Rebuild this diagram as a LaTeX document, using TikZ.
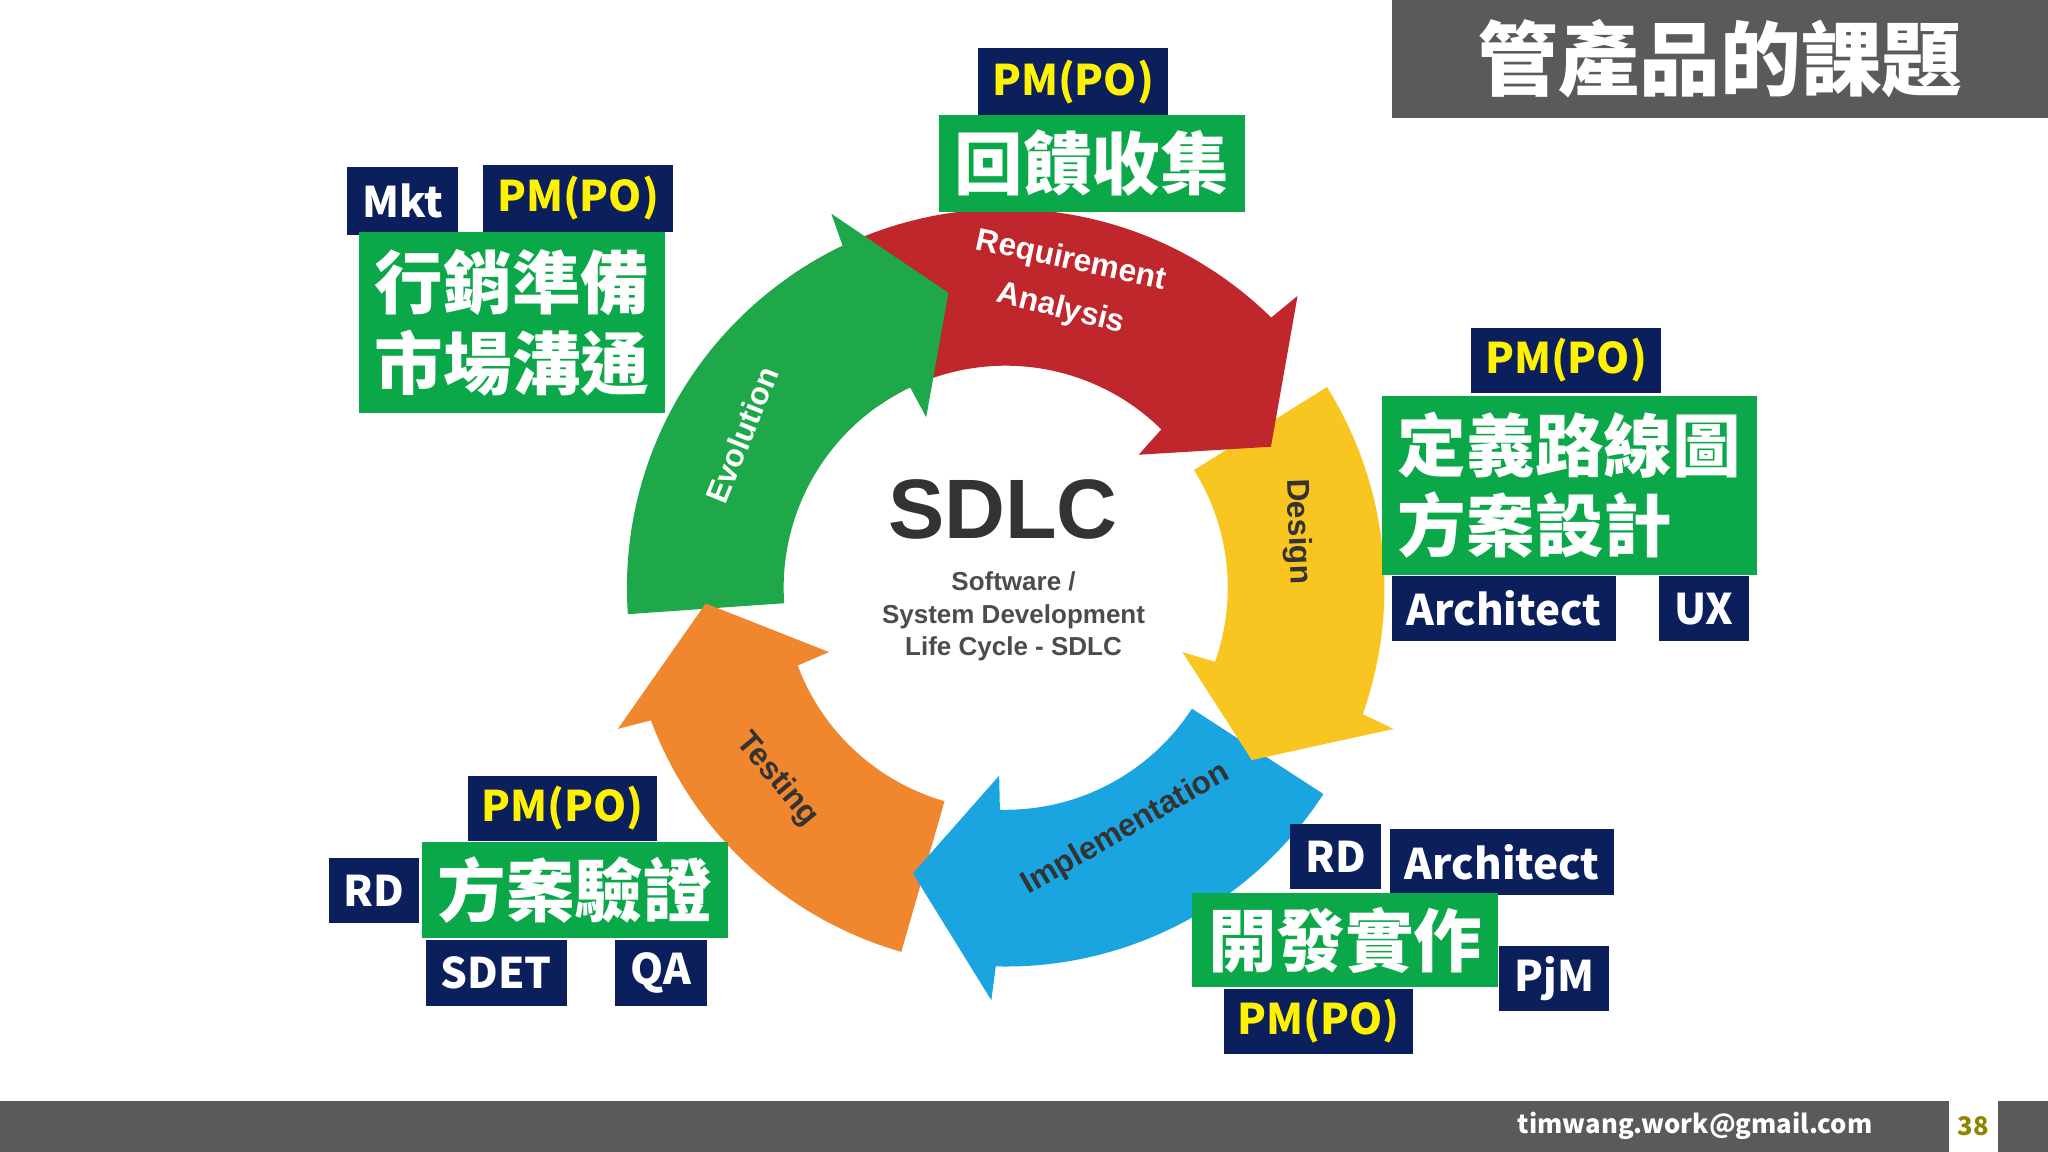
\documentclass[tikz,border=0pt]{standalone}
\usepackage{fontspec}
\setmainfont{Noto Sans CJK TC}
\newfontfamily\arl{Liberation Sans}
\definecolor{navy}{HTML}{0A1F5C}
\definecolor{pgreen}{HTML}{0BA84A}
\definecolor{pyel}{HTML}{FFF200}
\definecolor{cred}{HTML}{C0272D}
\definecolor{cyel}{HTML}{F9C521}
\definecolor{cblue}{HTML}{1BA5E0}
\definecolor{corg}{HTML}{F0862E}
\definecolor{cgrn}{HTML}{1EA84A}
\definecolor{bar}{HTML}{5A5A5A}
\def\u{0.013061cm}
\newcommand{\lab}[7]{\node[#6, minimum width={(#4-#2)*\u}, minimum height={(#5-#3)*\u}] (#1) at ({(#2+#4)/2},{882-(#3+#5)/2}) {#7};}
\newcommand{\body}[3]{\fill[#1] (#2:290) arc[start angle=#2, end angle=#3, radius=290] -- (#3:170) arc[start angle=#3, end angle=#2, radius=170] -- cycle;}
\newcommand{\head}[3]{\fill[#1] ({#2+0.5}:290) -- (#2:316) -- (#3:230) -- (#2:144) -- ({#2+0.5}:170) -- cycle;}
\begin{document}
\begin{tikzpicture}[x=\u,y=\u,
 nb/.style={fill=navy,text=white,inner sep=0,font=\fontsize{12pt}{14pt}\selectfont\bfseries},
 ny/.style={nb,text=pyel},
 gb/.style={fill=pgreen,text=white,inner sep=0,font=\fontsize{19.5pt}{23pt}\selectfont\bfseries},
 ring/.style={font=\arl\fontsize{9pt}{11pt}\selectfont\bfseries}]
\fill[white] (0,0) rectangle (1568,882);
% ring
\begin{scope}[shift={(770,432)}]
\body{cred}{125}{45}
\body{cyel}{32}{-20}
\body{cblue}{-33}{-92}
\body{corg}{-106}{-160}
\body{cgrn}{-176}{-245}
\head{cred}{45}{28}
\head{cyel}{-20}{-35}
\head{cblue}{-92}{-108}
\head{corg}{-160}{-177}
\head{cgrn}{-245}{-259}
\end{scope}
\node[ring,text=white,rotate=-12] (req) at (820,682) {Requirement};
\node[ring,text=white,rotate=-14] (ana) at (812,645) {Analysis};
\node[ring,text=black!80,rotate=-88] (des) at (993,475) {Design};
\node[ring,text=black!80,rotate=30] (imp) at (862,247) {Implementation};
\node[ring,text=black!80,rotate=-50] (tes) at (595,285) {Testing};
\node[ring,text=white,rotate=68] (evo) at (568,549) {Evolution};
\node[font=\arl\fontsize{24pt}{28pt}\selectfont\bfseries,text=black!80] (sdlc) at (768,492) {SDLC};
\node[font=\arl\fontsize{7.4pt}{9.3pt}\selectfont\bfseries,text=black!70,align=center] (sub) at (776,410) {Software /\\System Development\\Life Cycle - SDLC};
% labels
\lab{p1}{749}{37}{894}{88}{ny}{PM(PO)}
\lab{g1}{719}{88}{953}{162}{gb}{回饋收集}
\lab{mkt}{266}{128}{351}{180}{nb}{Mkt}
\lab{p2}{370}{126}{515}{178}{ny}{PM(PO)}
\lab{g2}{275}{178}{509}{316}{gb,align=center}{行銷準備\\市場溝通}
\lab{p3}{1126}{251}{1272}{301}{ny}{PM(PO)}
\lab{g3}{1058}{303}{1345}{440}{gb,align=left}{定義路線圖\\方案設計\hphantom{圖}}
\lab{ar1}{1066}{441}{1237}{491}{nb}{Architect}
\lab{ux}{1270}{441}{1339}{491}{nb}{UX}
\lab{p4}{358}{594}{503}{644}{ny}{PM(PO)}
\lab{rd1}{252}{657}{321}{707}{nb}{RD}
\lab{g4}{323}{645}{557}{718}{gb}{方案驗證}
\lab{sdet}{326}{720}{434}{770}{nb}{SDET}
\lab{qa}{471}{720}{541}{770}{nb}{QA}
\lab{rd2}{988}{631}{1057}{681}{nb}{RD}
\lab{ar2}{1064}{635}{1236}{685}{nb}{Architect}
\lab{g5}{913}{684}{1147}{756}{gb}{開發實作}
\lab{pjm}{1148}{724}{1232}{774}{nb}{PjM}
\lab{p5}{937}{757}{1082}{807}{ny}{PM(PO)}
% title
\lab{title}{1066}{0}{1568}{90}{fill=bar,text=white,inner sep=0,font=\fontsize{23pt}{26pt}\selectfont\bfseries}{管產品的課題}
% bottom bar
\fill[bar] (0,0) rectangle (1568,39);
\fill[white] (1492,0) rectangle (1530,39);
\node[text=white,font=\fontsize{7.3pt}{9pt}\selectfont\bfseries,anchor=east] (mail) at (1443,20) {timwang.work@gmail.com};
\node[text=olive,font=\fontsize{7.3pt}{9pt}\selectfont\bfseries] (pg) at (1511,20) {38};
\end{tikzpicture}
\end{document}
